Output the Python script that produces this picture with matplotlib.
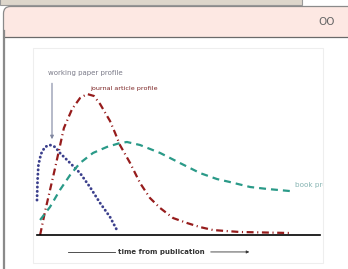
import matplotlib
matplotlib.use("Agg")
import matplotlib.pyplot as plt
from matplotlib.patches import FancyBboxPatch, Rectangle

plt.rcParams['lines.scale_dashes'] = False

# citations over time for three publication types
wp_time = [0, 0.02, 0.05, 0.14, 0.28, 0.46, 0.64, 0.81, 1.17, 1.52, 1.87, 2.23, 2.58, 2.86]
wp_cites = [23.3, 36.7, 46.7, 54, 58.7, 60, 58.7, 54.7, 48, 41.3, 32, 21.3, 12, 2]

ja_time = [0.11, 0.28, 0.46, 0.64, 0.81, 0.95, 1.24, 1.52, 1.77, 2.01, 2.23, 2.58, 2.76,
           2.93, 3.29, 3.64, 3.99, 4.35, 4.81, 5.30, 5.76, 6.22, 7.17, 9.01]
ja_cites = [0, 15.3, 30, 44.7, 59.3, 71.3, 84, 91.3, 94, 92.7, 87.3, 76, 68,
            60, 48, 34.7, 24.7, 18, 11.3, 8, 5.3, 3.3, 2, 1.3]

bk_time = [0.11, 0.46, 0.81, 1.17, 1.52, 1.98, 2.47, 2.93, 3.18, 3.64, 4.35, 5.05,
           5.76, 6.36, 6.82, 7.53, 8.13, 8.94]
bk_cites = [10, 18.7, 30, 40, 48, 54.7, 58.7, 61.3, 62, 60, 54.7, 48,
            41.3, 37.3, 35.3, 32, 30.7, 29.3]

x_end = 10

W, H = 348, 269
fig = plt.figure(figsize=(W / 100, H / 100), dpi=100)

# page / card decoration in pixel coords
bg = fig.add_axes([0, 0, 1, 1])
bg.set_xlim(0, W)
bg.set_ylim(H, 0)
bg.axis('off')
bg.add_patch(Rectangle((0, -2), 302, 7, facecolor='#ddd6cb', edgecolor='#9a9a9a', lw=0.8))
bg.add_patch(FancyBboxPatch((3.5, 6.5), 400, 300, boxstyle='round,pad=0,rounding_size=7',
                            facecolor='#fde8e3', edgecolor='#8a8a8a', lw=0.9))
bg.add_patch(Rectangle((4, 37), 400, 300, facecolor='white', edgecolor='none'))
bg.plot([3.5, W], [37, 37], color='#6a6a6a', lw=0.9)
bg.plot([3.5, 3.5], [30, H], color='#8a8a8a', lw=0.9)
bg.text(327, 22, 'OO', fontsize=7.5, color='#666666', ha='center', va='center')
bg.add_patch(Rectangle((33, 48), 290, 215, facecolor='white', edgecolor='#eeeeee', lw=0.8))

# chart area
left, right, top, bottom = 33, 323, 48, 263
ax = fig.add_axes([left / W, 1 - bottom / H, (right - left) / W, (bottom - top) / H])
ax.set_xlim(-4 / 28.3, (right - 37) / 28.3)
ax.set_ylim((235 - bottom) / 1.5, (235 - top) / 1.5)
ax.axis('off')
ax.patch.set_alpha(0)

ax.plot(wp_time, wp_cites, color='#3b3f8c', lw=2.1, linestyle=(0, (0.1, 3.0)),
        dash_capstyle='round', solid_capstyle='round')
ax.plot(ja_time, ja_cites, color='#961c1c', lw=1.6, dashes=[5, 2.6, 0.8, 2.6])
ax.plot(bk_time, bk_cites, color='#2a9a88', lw=1.6, dashes=[5, 3.6])
ax.plot([0, x_end], [0, 0], color='black', lw=1.2)

ax.text(0.39, 108, 'working paper profile', fontsize=5, color='#7a7a88', va='center',
        clip_on=False)
ax.annotate('', xy=(0.53, 62), xytext=(0.53, 103),
            arrowprops=dict(arrowstyle='-|>', color='#7f86a0', lw=0.8,
                            mutation_scale=5), annotation_clip=False)
ax.text(1.86, 97.5, 'journal article profile', fontsize=4.6, color='#7a2222', va='center',
        clip_on=False)
ax.text(9.12, 33.3, 'book profile', fontsize=5.2, color='#86b4b2', va='center',
        clip_on=True)

ax.text(4.38, -11.3, 'time from publication', fontsize=5, fontweight='bold',
        color='#333333', ha='center', va='center', clip_on=False)
ax.plot([1.10, 2.76], [-11.3, -11.3], color='#333333', lw=0.6, clip_on=False)
ax.annotate('', xy=(7.6, -11.3), xytext=(6.04, -11.3),
            arrowprops=dict(arrowstyle='-|>', color='#333333', lw=0.6,
                            mutation_scale=4), annotation_clip=False)

fig.savefig('out.png', dpi=100)
